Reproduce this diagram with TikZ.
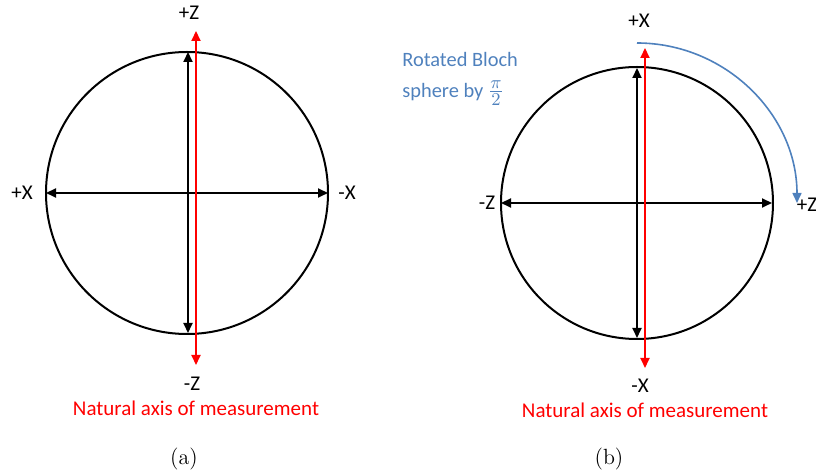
\documentclass[tikz,border=0pt]{standalone}
\usepackage{fontspec}
\usepackage{xcolor}
\usepackage{tikz}
\usetikzlibrary{arrows.meta}
\newfontfamily\calibri{Carlito}
\definecolor{rotblue}{HTML}{4F81BD}
\tikzset{
  sphere/.style={draw=black, line width=1pt},
  axis/.style={{Triangle[length=5pt,width=4.5pt]}-{Triangle[length=5pt,width=4.5pt]}, line width=1pt},
  measure/.style={axis, draw=red, color=red},
  label/.style={font=\calibri\fontsize{10.5}{12.5}\selectfont, inner sep=0pt},
  caption/.style={font=\fontsize{11}{13}\selectfont, inner sep=0pt},
  rotarrow/.style={-{Triangle[length=5pt,width=4.5pt]}, line width=0.8pt, draw=rotblue},
}
\begin{document}
\begin{tikzpicture}[x=0.5pt, y=-0.5pt]
\useasboundingbox (0,0) rectangle (816,475);

% (a) original sphere
\coordinate (ca) at (187,193);
\draw[sphere] (ca) circle[radius=141];
\coordinate (ca-left) at (46,193);
\coordinate (ca-right) at (328,193);
\coordinate (ca-top) at (188,52);
\coordinate (ca-bot) at (188,333);
\coordinate (ma-top) at (196,31);
\coordinate (ma-bot) at (196,365);
\draw[axis] (ca-left) -- (ca-right);
\draw[axis] (ca-top) -- (ca-bot);
\draw[measure] (ma-top) -- (ma-bot);
\node[label] (a-pz) at (189,13) {+Z};
\node[label] (a-mz) at (192,384) {-Z};
\node[label] (a-px) at (22,193) {+X};
\node[label] (a-mx) at (347,193) {-X};
\node[label, text=red] (a-nat) at (196,408) {Natural axis of measurement};
\node[caption] (a-cap) at (184,459) {(a)};

% (b) rotated sphere
\coordinate (cb) at (637,203);
\draw[sphere] (cb) circle[radius=136];
\coordinate (cb-left) at (501,203);
\coordinate (cb-right) at (772,203);
\coordinate (cb-top) at (637,68);
\coordinate (cb-bot) at (637,338);
\coordinate (mb-top) at (645,48);
\coordinate (mb-bot) at (645,368);
\draw[axis] (cb-left) -- (cb-right);
\draw[axis] (cb-top) -- (cb-bot);
\draw[measure] (mb-top) -- (mb-bot);
\node[label] (b-px) at (639,21) {+X};
\node[label] (b-mx) at (640,386) {-X};
\node[label] (b-mz) at (487,203) {-Z};
\node[label] (b-pz) at (807,205) {+Z};
\node[label, text=red] (b-nat) at (645,410) {Natural axis of measurement};
\node[caption] (b-cap) at (609,459) {(b)};

% rotation hint
\coordinate (rot-start) at (637,43);
\draw[rotarrow] (rot-start) arc[start angle=-90, end angle=0, radius=160];
\node[label, font=\calibri\fontsize{10.2}{12.5}\selectfont, text=rotblue, align=left, anchor=north west] (rot-txt) at (402,52)
  {Rotated Bloch\\[3pt]sphere by {\fontsize{13}{15}\selectfont$\frac{\pi}{2}$}};
\end{tikzpicture}
\end{document}
